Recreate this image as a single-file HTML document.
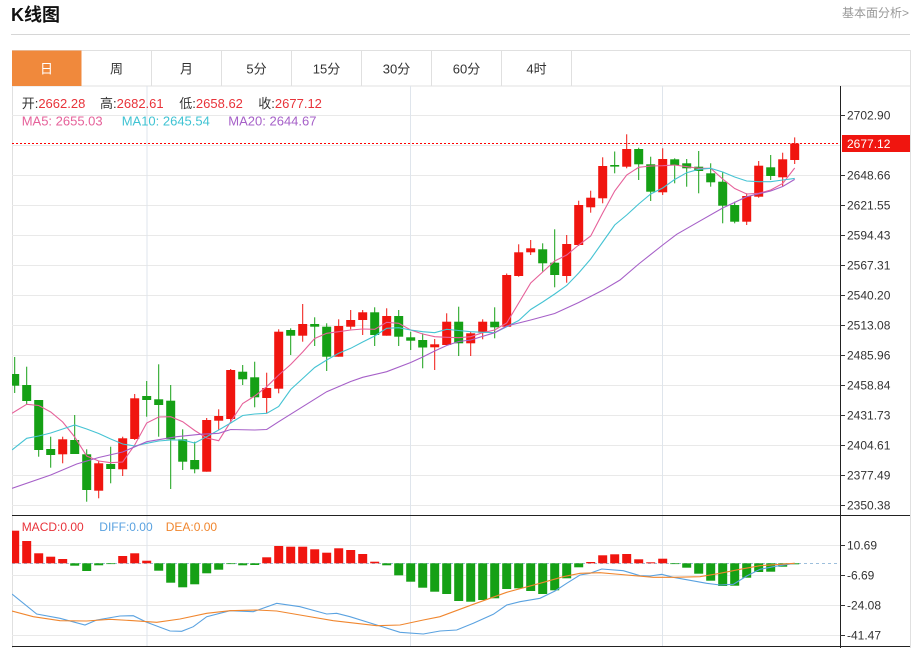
<!DOCTYPE html>
<html>
<head>
<meta charset="utf-8">
<style>
html,body{margin:0;padding:0;background:#fff;}
body{width:915px;height:648px;overflow:hidden;}
svg{display:block;}
text{font-family:"Liberation Sans","Noto Sans CJK SC",sans-serif;}
</style>
</head>
<body>
<svg width="915" height="648" viewBox="0 0 915 648" xmlns="http://www.w3.org/2000/svg">
<defs>
<clipPath id="cm"><rect x="12" y="86" width="828" height="429"/></clipPath>
<clipPath id="cd"><rect x="12" y="516" width="828" height="130"/></clipPath>
</defs>
<rect width="915" height="648" fill="#fff"/>
<text x="11" y="21" font-size="18" font-weight="bold" fill="#111">K线图</text>
<text x="909" y="17" font-size="12" fill="#999" text-anchor="end">基本面分析&gt;</text>
<line x1="11" y1="34.5" x2="910" y2="34.5" stroke="#d6d6d6" stroke-width="1"/>
<rect x="12.5" y="50.5" width="898" height="35.5" fill="#fff" stroke="#e0e0e0"/>
<rect x="12" y="50.5" width="69.5" height="35.5" fill="#f0893c"/>
<g stroke="#e0e0e0">
<line x1="151.5" y1="51" x2="151.5" y2="86"/>
<line x1="221.5" y1="51" x2="221.5" y2="86"/>
<line x1="291.5" y1="51" x2="291.5" y2="86"/>
<line x1="361.5" y1="51" x2="361.5" y2="86"/>
<line x1="431.5" y1="51" x2="431.5" y2="86"/>
<line x1="501.5" y1="51" x2="501.5" y2="86"/>
<line x1="571.5" y1="51" x2="571.5" y2="86"/>
</g>
<g font-size="13" text-anchor="middle" fill="#333">
<text x="46.5" y="73.5" fill="#fff">日</text>
<text x="116.5" y="73.5">周</text>
<text x="186.5" y="73.5">月</text>
<text x="256.5" y="73.5">5分</text>
<text x="326.5" y="73.5">15分</text>
<text x="396.5" y="73.5">30分</text>
<text x="466.5" y="73.5">60分</text>
<text x="536.5" y="73.5">4时</text>
</g>
<line x1="12.5" y1="86" x2="12.5" y2="648" stroke="#e0e0e0"/>
<line x1="910.5" y1="50" x2="910.5" y2="648" stroke="#e0e0e0"/>
<g stroke="#e9e9e9" stroke-width="1">
<line x1="12" y1="115.5" x2="840" y2="115.5"/>
<line x1="12" y1="145.5" x2="840" y2="145.5"/>
<line x1="12" y1="175.5" x2="840" y2="175.5"/>
<line x1="12" y1="205.5" x2="840" y2="205.5"/>
<line x1="12" y1="235.5" x2="840" y2="235.5"/>
<line x1="12" y1="265.5" x2="840" y2="265.5"/>
<line x1="12" y1="295.5" x2="840" y2="295.5"/>
<line x1="12" y1="325.5" x2="840" y2="325.5"/>
<line x1="12" y1="355.5" x2="840" y2="355.5"/>
<line x1="12" y1="385.5" x2="840" y2="385.5"/>
<line x1="12" y1="415.5" x2="840" y2="415.5"/>
<line x1="12" y1="445.5" x2="840" y2="445.5"/>
<line x1="12" y1="475.5" x2="840" y2="475.5"/>
<line x1="12" y1="505.5" x2="840" y2="505.5"/>
<line x1="12" y1="545.5" x2="840" y2="545.5"/>
<line x1="12" y1="575.5" x2="840" y2="575.5"/>
<line x1="12" y1="605.5" x2="840" y2="605.5"/>
<line x1="12" y1="635.5" x2="840" y2="635.5"/>
</g>
<g stroke="#dfe5ec" stroke-width="1">
<line x1="147" y1="86" x2="147" y2="646"/>
<line x1="410.5" y1="86" x2="410.5" y2="646"/>
<line x1="662.5" y1="86" x2="662.5" y2="646"/>
</g>
<line x1="12" y1="143.5" x2="840" y2="143.5" stroke="#ff0000" stroke-width="1" stroke-dasharray="2,2" shape-rendering="crispEdges"/>
<g clip-path="url(#cm)">
<g fill="#f0150f" stroke="#f0150f" stroke-width="1">
<line x1="62.7" y1="436.7" x2="62.7" y2="463.3"/><rect stroke="none" x="58.2" y="439.3" width="9" height="15"/>
<line x1="98.7" y1="460.7" x2="98.7" y2="498.3"/><rect stroke="none" x="94.2" y="463.3" width="9" height="27.4"/>
<line x1="122.7" y1="436.7" x2="122.7" y2="476"/><rect stroke="none" x="118.2" y="438.3" width="9" height="31"/>
<line x1="134.7" y1="394" x2="134.7" y2="440"/><rect stroke="none" x="130.2" y="398.3" width="9" height="40.7"/>
<line x1="206.7" y1="418" x2="206.7" y2="471.7"/><rect stroke="none" x="202.2" y="420" width="9" height="51.7"/>
<line x1="218.7" y1="409.3" x2="218.7" y2="430"/><rect stroke="none" x="214.2" y="416" width="9" height="4.7"/>
<line x1="230.7" y1="369" x2="230.7" y2="423.3"/><rect stroke="none" x="226.2" y="370" width="9" height="49"/>
<line x1="266.7" y1="372.7" x2="266.7" y2="413.3"/><rect stroke="none" x="262.2" y="388" width="9" height="10"/>
<line x1="278.7" y1="329.3" x2="278.7" y2="393.3"/><rect stroke="none" x="274.2" y="331.7" width="9" height="57"/>
<line x1="302.7" y1="304" x2="302.7" y2="341.7"/><rect stroke="none" x="298.2" y="324" width="9" height="11.7"/>
<line x1="338.7" y1="319.3" x2="338.7" y2="356.7"/><rect stroke="none" x="334.2" y="326" width="9" height="30.7"/>
<line x1="350.7" y1="310" x2="350.7" y2="329.3"/><rect stroke="none" x="346.2" y="320" width="9" height="6.7"/>
<line x1="362.7" y1="310" x2="362.7" y2="335"/><rect stroke="none" x="358.2" y="312.3" width="9" height="7.7"/>
<line x1="386.7" y1="308.3" x2="386.7" y2="335.7"/><rect stroke="none" x="382.2" y="316" width="9" height="19.7"/>
<line x1="434.7" y1="339" x2="434.7" y2="370"/><rect stroke="none" x="430.2" y="344.3" width="9" height="3"/>
<line x1="446.7" y1="313.3" x2="446.7" y2="345"/><rect stroke="none" x="442.2" y="321.7" width="9" height="23.3"/>
<line x1="470.7" y1="331.7" x2="470.7" y2="356"/><rect stroke="none" x="466.2" y="333.3" width="9" height="10"/>
<line x1="482.7" y1="319.3" x2="482.7" y2="339.3"/><rect stroke="none" x="478.2" y="321.7" width="9" height="11"/>
<line x1="506.7" y1="273.5" x2="506.7" y2="326.7"/><rect stroke="none" x="502.2" y="275" width="9" height="51.7"/>
<line x1="518.7" y1="244.3" x2="518.7" y2="276.7"/><rect stroke="none" x="514.2" y="252.3" width="9" height="23.7"/>
<line x1="530.7" y1="240" x2="530.7" y2="255"/><rect stroke="none" x="526.2" y="248.3" width="9" height="4"/>
<line x1="566.7" y1="235" x2="566.7" y2="282.7"/><rect stroke="none" x="562.2" y="244" width="9" height="32"/>
<line x1="578.7" y1="200.7" x2="578.7" y2="246"/><rect stroke="none" x="574.2" y="205" width="9" height="40"/>
<line x1="590.7" y1="190.7" x2="590.7" y2="212.7"/><rect stroke="none" x="586.2" y="197.7" width="9" height="9.6"/>
<line x1="602.7" y1="157.3" x2="602.7" y2="203.3"/><rect stroke="none" x="598.2" y="166" width="9" height="32.3"/>
<line x1="626.7" y1="134.3" x2="626.7" y2="168.3"/><rect stroke="none" x="622.2" y="149" width="9" height="17.7"/>
<line x1="662.7" y1="148.3" x2="662.7" y2="195"/><rect stroke="none" x="658.2" y="159" width="9" height="33.3"/>
<line x1="746.7" y1="193.3" x2="746.7" y2="225"/><rect stroke="none" x="742.2" y="196" width="9" height="25.7"/>
<line x1="758.7" y1="161" x2="758.7" y2="197.7"/><rect stroke="none" x="754.2" y="165.7" width="9" height="31"/>
<line x1="782.7" y1="152.7" x2="782.7" y2="186.7"/><rect stroke="none" x="778.2" y="159.3" width="9" height="18"/>
<line x1="794.7" y1="137.4" x2="794.7" y2="164"/><rect stroke="none" x="790.2" y="143.5" width="9" height="16.5"/>
</g>
<g fill="#15a015" stroke="#15a015" stroke-width="1">
<line x1="14.7" y1="357" x2="14.7" y2="393"/><rect stroke="none" x="10.2" y="374" width="9" height="11.7"/>
<line x1="26.7" y1="366.7" x2="26.7" y2="405"/><rect stroke="none" x="22.2" y="385" width="9" height="16"/>
<line x1="38.7" y1="400" x2="38.7" y2="456.7"/><rect stroke="none" x="34.2" y="400" width="9" height="50"/>
<line x1="50.7" y1="436.7" x2="50.7" y2="467.7"/><rect stroke="none" x="46.2" y="449" width="9" height="6"/>
<line x1="74.7" y1="415" x2="74.7" y2="454"/><rect stroke="none" x="70.2" y="440" width="9" height="14"/>
<line x1="86.7" y1="449.3" x2="86.7" y2="501.7"/><rect stroke="none" x="82.2" y="454.3" width="9" height="35.7"/>
<line x1="110.7" y1="446.7" x2="110.7" y2="483.3"/><rect stroke="none" x="106.2" y="464" width="9" height="5"/>
<line x1="146.7" y1="381" x2="146.7" y2="416.7"/><rect stroke="none" x="142.2" y="396" width="9" height="4"/>
<line x1="158.7" y1="364.3" x2="158.7" y2="436.7"/><rect stroke="none" x="154.2" y="399.3" width="9" height="5.7"/>
<line x1="170.7" y1="385" x2="170.7" y2="489"/><rect stroke="none" x="166.2" y="400.7" width="9" height="38.6"/>
<line x1="182.7" y1="429.3" x2="182.7" y2="470"/><rect stroke="none" x="178.2" y="439.3" width="9" height="22.4"/>
<line x1="194.7" y1="441.7" x2="194.7" y2="473.3"/><rect stroke="none" x="190.2" y="460" width="9" height="9.3"/>
<line x1="242.7" y1="365" x2="242.7" y2="385"/><rect stroke="none" x="238.2" y="371.7" width="9" height="7.6"/>
<line x1="254.7" y1="361.7" x2="254.7" y2="407.3"/><rect stroke="none" x="250.2" y="377.3" width="9" height="20"/>
<line x1="290.7" y1="328.3" x2="290.7" y2="355"/><rect stroke="none" x="286.2" y="330" width="9" height="5.7"/>
<line x1="314.7" y1="317.3" x2="314.7" y2="346"/><rect stroke="none" x="310.2" y="324" width="9" height="2.7"/>
<line x1="326.7" y1="323.3" x2="326.7" y2="371"/><rect stroke="none" x="322.2" y="326.7" width="9" height="30"/>
<line x1="374.7" y1="307.3" x2="374.7" y2="346"/><rect stroke="none" x="370.2" y="312.3" width="9" height="22.7"/>
<line x1="398.7" y1="310" x2="398.7" y2="346"/><rect stroke="none" x="394.2" y="316" width="9" height="20.7"/>
<line x1="410.7" y1="331.7" x2="410.7" y2="350"/><rect stroke="none" x="406.2" y="337.3" width="9" height="3.4"/>
<line x1="422.7" y1="333.3" x2="422.7" y2="368.3"/><rect stroke="none" x="418.2" y="340" width="9" height="7.5"/>
<line x1="458.7" y1="306.7" x2="458.7" y2="356"/><rect stroke="none" x="454.2" y="321.7" width="9" height="21.6"/>
<line x1="494.7" y1="307.3" x2="494.7" y2="338.3"/><rect stroke="none" x="490.2" y="321.7" width="9" height="5.6"/>
<line x1="542.7" y1="243.3" x2="542.7" y2="271.7"/><rect stroke="none" x="538.2" y="249.3" width="9" height="14"/>
<line x1="554.7" y1="229.3" x2="554.7" y2="287.3"/><rect stroke="none" x="550.2" y="262.7" width="9" height="12.3"/>
<line x1="614.7" y1="151.5" x2="614.7" y2="173.3"/><rect stroke="none" x="610.2" y="165" width="9" height="1.6"/>
<line x1="638.7" y1="147.7" x2="638.7" y2="180"/><rect stroke="none" x="634.2" y="149" width="9" height="15.3"/>
<line x1="650.7" y1="156.7" x2="650.7" y2="201"/><rect stroke="none" x="646.2" y="164.3" width="9" height="27.4"/>
<line x1="674.7" y1="158.3" x2="674.7" y2="183.3"/><rect stroke="none" x="670.2" y="159.3" width="9" height="5.7"/>
<line x1="686.7" y1="159" x2="686.7" y2="186.7"/><rect stroke="none" x="682.2" y="163.3" width="9" height="5"/>
<line x1="698.7" y1="151" x2="698.7" y2="193.3"/><rect stroke="none" x="694.2" y="166.7" width="9" height="4.3"/>
<line x1="710.7" y1="163.3" x2="710.7" y2="186.7"/><rect stroke="none" x="706.2" y="173.3" width="9" height="9"/>
<line x1="722.7" y1="171.7" x2="722.7" y2="223.3"/><rect stroke="none" x="718.2" y="181.7" width="9" height="24"/>
<line x1="734.7" y1="201.7" x2="734.7" y2="223.3"/><rect stroke="none" x="730.2" y="205" width="9" height="16.7"/>
<line x1="770.7" y1="155" x2="770.7" y2="180"/><rect stroke="none" x="766.2" y="167.3" width="9" height="8.7"/>
</g>
<polyline fill="none" stroke="#e6619a" stroke-width="1.1" points="12,413.3 26.7,404.3 38.7,405.5 50.7,412 62.7,422 74.7,437 86.7,456 98.7,461 110.7,462.7 122.7,462 134.7,445 146.7,423 158.7,417 170.7,416.7 182.7,421.7 194.7,430.5 206.7,438 218.7,440.7 230.7,421.7 242.7,403.5 254.7,396 266.7,386.7 278.7,375 290.7,364.5 302.7,352 314.7,338.5 326.7,333.3 338.7,331.7 350.7,330 362.7,329 374.7,329.3 386.7,322.3 398.7,323.3 410.7,330 422.7,334 434.7,336.7 446.7,337.3 458.7,337.7 470.7,336.7 482.7,332.7 494.7,330 506.7,323 518.7,303 530.7,283 542.7,272 554.7,261 566.7,255 578.7,245 590.7,236 602.7,213 614.7,191 626.7,175 638.7,167.3 650.7,166 662.7,165.7 674.7,165 686.7,166.7 698.7,168.3 710.7,168.3 722.7,179 734.7,188.5 746.7,194 758.7,193.3 770.7,190 782.7,183.5 794.7,168"/>
<polyline fill="none" stroke="#45c3d3" stroke-width="1.1" points="12,450 26.7,438.3 38.7,436 50.7,433 62.7,429 74.7,425 86.7,429 98.7,433.5 110.7,439 122.7,444 134.7,446 146.7,443.3 158.7,441 170.7,440 182.7,440 194.7,443 206.7,436.7 218.7,430 230.7,423 242.7,415.5 254.7,414 266.7,413.3 278.7,406.5 290.7,389.5 302.7,378.5 314.7,367.5 326.7,360 338.7,353.3 350.7,348.3 362.7,342 374.7,336 386.7,328.3 398.7,327.7 410.7,330 422.7,331.7 434.7,332.7 446.7,329.3 458.7,330.5 470.7,331.7 482.7,332.3 494.7,332.7 506.7,326.7 518.7,320.5 530.7,309.5 542.7,302 554.7,294 566.7,285.5 578.7,273 590.7,259 602.7,242 614.7,225 626.7,215 638.7,204 650.7,194 662.7,188 674.7,179.5 686.7,172.7 698.7,169.3 710.7,168.3 722.7,172 734.7,177 746.7,181 758.7,181.7 770.7,181.7 782.7,180 794.7,178.4"/>
<polyline fill="none" stroke="#a660c8" stroke-width="1.1" points="12,488.3 50.7,475 76.7,464 98.7,457.5 122.7,452 146.7,441.7 176.7,436.7 200,434.3 218.7,433.3 230.7,429.5 254.7,430 266.7,429.5 278.7,421.7 302.7,406.7 326.7,391.7 350.7,381.5 362.7,377.3 386.7,371.7 410.7,362.5 422.7,357 434.7,351 446.7,345.5 458.7,341.5 470.7,340 494.7,332.7 506.7,326 530.7,320 554.7,313.5 578.7,302.5 602.7,290.3 620,280 638.7,264 662.7,245 676.7,234.3 698.7,221.7 722.7,208 746.7,196.7 770.7,191 782.7,186.5 794.7,179.4"/>
</g>
<text y="108" font-size="13" fill="#333">
<tspan x="21.7">开:</tspan><tspan fill="#e8333a">2662.28</tspan>
<tspan x="100">高:</tspan><tspan fill="#e8333a">2682.61</tspan>
<tspan x="179.3">低:</tspan><tspan fill="#e8333a">2658.62</tspan>
<tspan x="258.3">收:</tspan><tspan fill="#e8333a">2677.12</tspan>
</text>
<text y="125.5" font-size="13">
<tspan x="21.7" fill="#e6619a">MA5: 2655.03</tspan>
<tspan x="121.7" fill="#3fc3d3">MA10: 2645.54</tspan>
<tspan x="228.3" fill="#a660c8">MA20: 2644.67</tspan>
</text>
<line x1="12" y1="563.5" x2="840" y2="563.5" stroke="#9dbfdc" stroke-width="1" stroke-dasharray="3,3"/>
<g clip-path="url(#cd)">
<g fill="#f0150f">
<rect x="10.2" y="530.7" width="9" height="32.6"/>
<rect x="22.2" y="541" width="9" height="22.3"/>
<rect x="34.2" y="553.3" width="9" height="10"/>
<rect x="46.2" y="556.7" width="9" height="6.6"/>
<rect x="58.2" y="559" width="9" height="4.3"/>
<rect x="118.2" y="556" width="9" height="7.3"/>
<rect x="130.2" y="553.3" width="9" height="10"/>
<rect x="142.2" y="560.7" width="9" height="2.6"/>
<rect x="262.2" y="557.3" width="9" height="6"/>
<rect x="274.2" y="546" width="9" height="17.3"/>
<rect x="286.2" y="546.7" width="9" height="16.6"/>
<rect x="298.2" y="546.7" width="9" height="16.6"/>
<rect x="310.2" y="549.3" width="9" height="14"/>
<rect x="322.2" y="552.7" width="9" height="10.6"/>
<rect x="334.2" y="548.3" width="9" height="15"/>
<rect x="346.2" y="550" width="9" height="13.3"/>
<rect x="358.2" y="554" width="9" height="9.3"/>
<rect x="370.2" y="561.7" width="9" height="1.6"/>
<rect x="586.2" y="562" width="9" height="1.3"/>
<rect x="598.2" y="555.3" width="9" height="8"/>
<rect x="610.2" y="554.3" width="9" height="9"/>
<rect x="622.2" y="554" width="9" height="9.3"/>
<rect x="634.2" y="559.3" width="9" height="4"/>
<rect x="646.2" y="562.3" width="9" height="1"/>
<rect x="658.2" y="558.7" width="9" height="4.6"/>
</g>
<g fill="#15a015">
<rect x="70.2" y="563.3" width="9" height="2.4"/>
<rect x="82.2" y="563.3" width="9" height="7.7"/>
<rect x="94.2" y="563.3" width="9" height="2"/>
<rect x="106.2" y="563.3" width="9" height="0.8"/>
<rect x="154.2" y="563.3" width="9" height="7.4"/>
<rect x="166.2" y="563.3" width="9" height="19.4"/>
<rect x="178.2" y="563.3" width="9" height="24"/>
<rect x="190.2" y="563.3" width="9" height="21"/>
<rect x="202.2" y="563.3" width="9" height="10"/>
<rect x="214.2" y="563.3" width="9" height="6.4"/>
<rect x="226.2" y="563.3" width="9" height="0.8"/>
<rect x="238.2" y="563.3" width="9" height="2"/>
<rect x="250.2" y="563.3" width="9" height="1.7"/>
<rect x="382.2" y="563.3" width="9" height="2"/>
<rect x="394.2" y="563.3" width="9" height="12"/>
<rect x="406.2" y="563.3" width="9" height="18.4"/>
<rect x="418.2" y="563.3" width="9" height="24.4"/>
<rect x="430.2" y="563.3" width="9" height="28.4"/>
<rect x="442.2" y="563.3" width="9" height="30.7"/>
<rect x="454.2" y="563.3" width="9" height="37.7"/>
<rect x="466.2" y="563.3" width="9" height="38.4"/>
<rect x="478.2" y="563.3" width="9" height="36.7"/>
<rect x="490.2" y="563.3" width="9" height="35"/>
<rect x="502.2" y="563.3" width="9" height="25.7"/>
<rect x="514.2" y="563.3" width="9" height="25"/>
<rect x="526.2" y="563.3" width="9" height="27.7"/>
<rect x="538.2" y="563.3" width="9" height="30.7"/>
<rect x="550.2" y="563.3" width="9" height="27"/>
<rect x="562.2" y="563.3" width="9" height="15"/>
<rect x="574.2" y="563.3" width="9" height="4"/>
<rect x="670.2" y="563.3" width="9" height="0.8"/>
<rect x="682.2" y="563.3" width="9" height="4.4"/>
<rect x="694.2" y="563.3" width="9" height="10.4"/>
<rect x="706.2" y="563.3" width="9" height="17.4"/>
<rect x="718.2" y="563.3" width="9" height="22.7"/>
<rect x="730.2" y="563.3" width="9" height="22.4"/>
<rect x="742.2" y="563.3" width="9" height="14.4"/>
<rect x="754.2" y="563.3" width="9" height="8.7"/>
<rect x="766.2" y="563.3" width="9" height="8.4"/>
<rect x="778.2" y="563.3" width="9" height="3.4"/>
<rect x="790.2" y="563.3" width="9" height="1"/>
</g>
<polyline fill="none" stroke="#5aa2e0" stroke-width="1.1" points="12,594 36.7,614 60,618.3 85,625 96.7,620 120,616 133.3,615.7 146.7,622.3 170,631 181.7,631.3 193.3,626.7 206.7,616.7 230,610.7 253.3,611.7 276.7,603.3 300,606.7 326.7,614 336.7,613.3 350,616.7 376.7,625 400,632.3 423.3,634 440,631 456.7,630 473.3,623.3 493.3,614.3 506.7,605 520,601.7 540,598.3 555,591 566.7,583.3 580,575 590,573.3 601.7,569 623.3,570.7 640,575.7 650,576 661.7,574.3 673.3,577.3 706.7,583.3 720,585 733.3,584.3 746.7,576 760,569.3 773.3,566.7 794.7,563.3"/>
<polyline fill="none" stroke="#f0862e" stroke-width="1.1" points="12,611 33.3,616.7 60,620.7 86.7,621 110,619.3 133.3,620.7 156.7,622.3 180,619 206.7,613.3 230,610.7 256.7,610 276.7,611 300,615 333.3,620.7 376.7,625.7 400,625 423.3,620 440,616.7 473.3,604.3 506.7,592.3 540,583.3 563.3,576.7 580,573.3 600,572.7 626.7,575 653.3,577.3 673.3,577.3 700,576.7 720,573.3 740,569.3 760,565.7 794.7,563.3"/>
</g>
<text y="531" font-size="12">
<tspan x="21.7" fill="#e8333a">MACD:0.00</tspan>
<tspan x="99.3" fill="#5aa2e0">DIFF:0.00</tspan>
<tspan x="165.7" fill="#f0862e">DEA:0.00</tspan>
</text>
<line x1="12" y1="515.5" x2="910" y2="515.5" stroke="#222" stroke-width="1"/>
<line x1="12" y1="646.5" x2="910" y2="646.5" stroke="#222" stroke-width="1"/>
<line x1="840.5" y1="86" x2="840.5" y2="648" stroke="#222" stroke-width="1"/>
<g stroke="#333" stroke-width="1">
<line x1="840" y1="115.5" x2="845" y2="115.5"/>
<line x1="840" y1="175.5" x2="845" y2="175.5"/>
<line x1="840" y1="205.5" x2="845" y2="205.5"/>
<line x1="840" y1="235.5" x2="845" y2="235.5"/>
<line x1="840" y1="265.5" x2="845" y2="265.5"/>
<line x1="840" y1="295.5" x2="845" y2="295.5"/>
<line x1="840" y1="325.5" x2="845" y2="325.5"/>
<line x1="840" y1="355.5" x2="845" y2="355.5"/>
<line x1="840" y1="385.5" x2="845" y2="385.5"/>
<line x1="840" y1="415.5" x2="845" y2="415.5"/>
<line x1="840" y1="445.5" x2="845" y2="445.5"/>
<line x1="840" y1="475.5" x2="845" y2="475.5"/>
<line x1="840" y1="505.5" x2="845" y2="505.5"/>
<line x1="840" y1="545.5" x2="845" y2="545.5"/>
<line x1="840" y1="575.5" x2="845" y2="575.5"/>
<line x1="840" y1="605.5" x2="845" y2="605.5"/>
<line x1="840" y1="635.5" x2="845" y2="635.5"/>
</g>
<g font-size="12" fill="#333">
<text x="847" y="119.5">2702.90</text>
<text x="847" y="179.5">2648.66</text>
<text x="847" y="209.5">2621.55</text>
<text x="847" y="239.5">2594.43</text>
<text x="847" y="269.5">2567.31</text>
<text x="847" y="299.5">2540.20</text>
<text x="847" y="329.5">2513.08</text>
<text x="847" y="359.5">2485.96</text>
<text x="847" y="389.5">2458.84</text>
<text x="847" y="419.5">2431.73</text>
<text x="847" y="449.5">2404.61</text>
<text x="847" y="479.5">2377.49</text>
<text x="847" y="509.5">2350.38</text>
<text x="847" y="549.5">10.69</text>
<text x="847" y="579.5">-6.69</text>
<text x="847" y="609.5">-24.08</text>
<text x="847" y="639.5">-41.47</text>
</g>
<rect x="842" y="135" width="68" height="17" fill="#f0150f"/>
<text x="847" y="148" font-size="12" fill="#fff">2677.12</text>
</svg>
</body>
</html>
